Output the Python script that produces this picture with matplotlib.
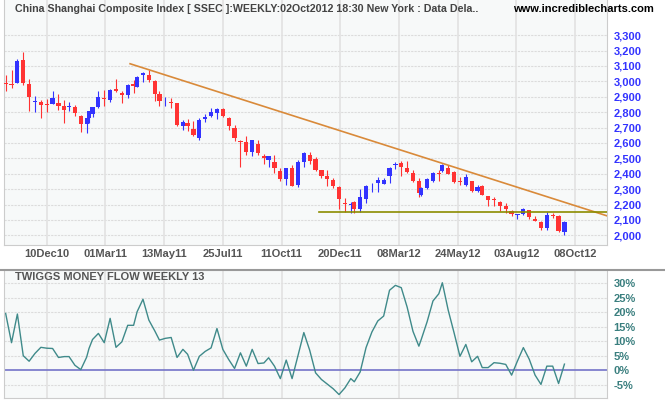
import numpy as np
import matplotlib
matplotlib.use('Agg')
import matplotlib.pyplot as plt
from matplotlib.lines import Line2D

plt.rcParams['font.family'] = ['Liberation Sans', 'DejaVu Sans']

# trading sessions in each weekly bar, 18Oct2010 .. 24Sep2012 (holiday weeks are short)
sessions = ([5] * 11 +
            [4, 5, 5, 5, 2, 3, 5, 5, 5, 5, 5, 5, 5, 3, 5, 5, 5, 4, 5, 5, 5, 5, 4] + [5] * 13 + [4, 5, 5] + [5] * 12 +
            [3, 5, 5] + [5] * 9 + [2, 5, 5, 5, 3] + [5] * 6 + [4] + [5] * 14)

opens = [2990, 2985, 2992, 3138, 2985, 2864, 2863, 2854, 2854, 2861, 2839, 2830, 2835, 2777, 2721, 2760, 2788,
         2830, 2888, 2880, 2951, 2927, 2912, 2985, 2966, 3043, 3043, 3004, 2918, 2869, 2868, 2858, 2709, 2729,
         2688, 2634, 2757, 2774, 2795, 2821, 2763, 2699, 2610, 2606, 2541, 2595, 2513, 2490, 2477, 2417, 2365,
         2438, 2326, 2477, 2519, 2498, 2422, 2384, 2362, 2315, 2210, 2197, 2216, 2171, 2238, 2330, 2341, 2336,
         2386, 2455, 2472, 2440, 2405, 2354, 2261, 2304, 2354, 2407, 2418, 2440, 2413, 2348, 2327, 2353, 2290,
         2320, 2255, 2232, 2219, 2191, 2158, 2134, 2136, 2165, 2104, 2089, 2048, 2130, 2126, 2024]
highs = [3041, 3071, 3144, 3189, 3015, 2906, 2878, 2884, 2938, 2919, 2878, 2867, 2848, 2783, 2763, 2810, 2835,
         2938, 2944, 2950, 3017, 2938, 2985, 3011, 3037, 3062, 3071, 3006, 2935, 2901, 2890, 2860, 2746, 2757,
         2740, 2763, 2785, 2828, 2828, 2826, 2768, 2714, 2621, 2643, 2617, 2617, 2531, 2503, 2520, 2440, 2440,
         2455, 2488, 2541, 2541, 2508, 2424, 2427, 2369, 2319, 2240, 2214, 2223, 2298, 2326, 2341, 2380, 2373,
         2444, 2476, 2481, 2483, 2422, 2369, 2315, 2369, 2412, 2422, 2460, 2455, 2420, 2381, 2398, 2355, 2327,
         2327, 2256, 2247, 2225, 2208, 2165, 2140, 2180, 2166, 2126, 2090, 2154, 2143, 2132, 2093]
lows = [2934, 2959, 2992, 2979, 2809, 2798, 2760, 2798, 2850, 2815, 2730, 2809, 2773, 2669, 2663, 2727, 2766,
        2825, 2841, 2863, 2931, 2856, 2891, 2921, 2966, 2998, 2998, 2875, 2839, 2839, 2828, 2710, 2681, 2675,
        2643, 2617, 2735, 2770, 2755, 2767, 2681, 2612, 2445, 2520, 2513, 2520, 2466, 2445, 2406, 2354, 2326,
        2320, 2315, 2444, 2465, 2418, 2373, 2321, 2308, 2171, 2149, 2143, 2143, 2154, 2207, 2283, 2283, 2330,
        2341, 2429, 2384, 2407, 2347, 2250, 2258, 2298, 2347, 2354, 2412, 2397, 2342, 2327, 2320, 2284, 2284,
        2260, 2193, 2191, 2160, 2147, 2128, 2106, 2134, 2106, 2093, 2035, 2035, 2115, 2024, 2004]
closes = [2984, 2979, 3131, 2990, 2895, 2872, 2846, 2846, 2893, 2837, 2811, 2841, 2794, 2721, 2760, 2805, 2830,
          2899, 2884, 2944, 2938, 2910, 2977, 2972, 3028, 3054, 3009, 2918, 2871, 2875, 2862, 2716, 2733, 2707,
          2649, 2750, 2767, 2798, 2821, 2774, 2709, 2632, 2606, 2541, 2617, 2535, 2505, 2512, 2440, 2365, 2438,
          2320, 2477, 2534, 2483, 2422, 2386, 2367, 2321, 2233, 2205, 2203, 2169, 2246, 2319, 2335, 2358, 2362,
          2440, 2465, 2444, 2412, 2354, 2272, 2304, 2364, 2407, 2401, 2455, 2401, 2344, 2344, 2377, 2290, 2312,
          2264, 2229, 2227, 2193, 2171, 2136, 2139, 2171, 2121, 2095, 2048, 2132, 2126, 2030, 2084]

# Twiggs Money Flow (13 week), percent
tmf = [19.6, 9.5, 19.4, 5.0, 3.1, 5.8, 7.9, 7.6, 7.5, 4.4, 4.7, 4.7, 1.7, 0.2, 4.5, 7.5, 10.6, 12.7, 9.5, 17.9,
       7.9, 9.8, 15.5, 15.5, 20.2, 24.5, 17.3, 13.6, 10.4, 11.0, 11.3, 4.4, 7.2, 5.5, 0.0, 4.8, 6.5, 7.7, 14.4,
       7.2, 3.7, 0.6, 6.0, 1.4, 7.2, 2.3, 2.5, 4.3, 1.4, -2.9, 3.5, -2.9, 5.0, 13.0, 6.9, -0.9, -3.2, -4.8, -6.4,
       -8.4, -6.1, -2.9, -4.0, -0.6, 7.8, 13.2, 17.0, 18.7, 27.6, 29.3, 28.5, 21.8, 13.4, 8.3, 10.6, 16.7, 23.9,
       26.4, 30.2, 20.7, 12.9, 4.8, 8.9, 2.9, 4.8, 0.9, 0.9, 2.6, 2.4, 2.0, -1.7, 3.2, 7.8, 3.8, -1.7, -4.9, 1.4,
       1.4, -4.6, 2.1]

date_labels = ['10Dec10', '01Mar11', '13May11', '25Jul11', '11Oct11', '20Dec11',
               '08Mar12', '24May12', '03Aug12', '08Oct12']
price_ticks = list(range(2000, 3301, 100))
tmf_ticks = [-5, 0, 5, 10, 15, 20, 25, 30]

# trend lines (trading day, price)
resist_days = [71, 477]
resist_prices = [3114, 2127]
support_days = [232, 477]
support_price = 2150

# x in trading days, counted from the week of 10Dec10 (8th bar)
days = np.cumsum(sessions)
x = days - days[7]
label_pos = np.arange(len(date_labels)) * 50

o = np.array(opens)
h = np.array(highs)
l = np.array(lows)
c = np.array(closes)
up = c >= o
col = np.where(up, '#3333ff', '#ff3333')

fig = plt.figure(figsize=(6.65, 4.05), dpi=100)
fig.patch.set_facecolor('white')
bg = '#f7f9f9'
grid_c = '#dcdcdc'

# ---- price panel
ax = fig.add_axes([4 / 665, 1 - 245 / 405, 602.7 / 665, 245 / 405])
ax.set_facecolor(bg)
ax.set_xlim(-36.4, 477)
ax.set_ylim(1937, 3528)
for p in price_ticks:
    ax.axhline(p, color=grid_c, lw=0.8, ls=(0, (2, 1)), zorder=0)
for xp in label_pos:
    ax.axvline(xp, color='#e2e2e2', lw=1.2, zorder=0)

ax.vlines(x, l, h, colors=col, lw=0.8, zorder=2)
body = np.maximum(np.abs(c - o), 6)
ax.bar(x, body, bottom=np.minimum(o, c), width=3.6, color=col, zorder=3)

ax.plot(resist_days, resist_prices, color='#d98a3a', lw=1.2, zorder=4)
ax.plot(support_days, [support_price] * 2, color='#8c8c00', lw=1.2, zorder=4)

ax.yaxis.tick_right()
ax.set_yticks(price_ticks)
ax.set_yticklabels([f'{p:,}' for p in price_ticks])
ax.tick_params(axis='y', length=0, pad=5, labelsize=8, labelcolor='#3333ff')
for t in ax.get_yticklabels():
    t.set_fontweight('bold')
ax.set_xticks(label_pos)
ax.set_xticklabels(date_labels)
ax.tick_params(axis='x', length=0, pad=3, labelsize=8, labelcolor='#555555')
for t in ax.get_xticklabels():
    t.set_fontweight('bold')
for s in ax.spines.values():
    s.set_color('#cccccc')
ax.spines['top'].set_visible(False)

fig.text(15 / 665, 1 - 9 / 405, 'China Shanghai Composite Index [ SSEC ]:WEEKLY:02Oct2012 18:30 New York : Data Dela..',
         fontsize=7.7, color='#444444', fontweight='bold', va='center', ha='left')
fig.text(654 / 665, 1 - 9 / 405, 'www.incrediblecharts.com', fontsize=8, color='black',
         fontweight='bold', va='center', ha='right')

# separator between panels
fig.add_artist(Line2D([0, 1], [1 - 270 / 405] * 2, color='#999999', lw=1.5))

# ---- money flow panel
ax2 = fig.add_axes([4 / 665, 1 - 398.3 / 405, 602.7 / 665, 128.3 / 405])
ax2.set_facecolor(bg)
ax2.set_xlim(-36.4, 477)
ax2.set_ylim(-9.7, 34.6)
for v in tmf_ticks:
    if v != 0:
        ax2.axhline(v, color=grid_c, lw=0.8, ls=(0, (2, 1)), zorder=0)
for xp in label_pos:
    ax2.axvline(xp, color='#e2e2e2', lw=1.2, zorder=0)
ax2.axhline(0, color='#7373c8', lw=1.2, zorder=1)
ax2.plot(x, tmf, color='#3f8a8a', lw=1.0, zorder=2)

ax2.yaxis.tick_right()
ax2.set_yticks(tmf_ticks)
ax2.set_yticklabels([f'{v}%' for v in tmf_ticks])
ax2.tick_params(axis='y', length=0, pad=5, labelsize=8, labelcolor='#3a7f7f')
for t in ax2.get_yticklabels():
    t.set_fontweight('bold')
ax2.set_xticks([])
for s in ax2.spines.values():
    s.set_color('#cccccc')
ax2.spines['top'].set_visible(False)
ax2.text(11 / 602.7, 1 - 7 / 128.3, 'TWIGGS MONEY FLOW WEEKLY 13', transform=ax2.transAxes,
         fontsize=8, color='#555555', fontweight='bold', va='center', ha='left')

fig.savefig('out.png', dpi=100)
